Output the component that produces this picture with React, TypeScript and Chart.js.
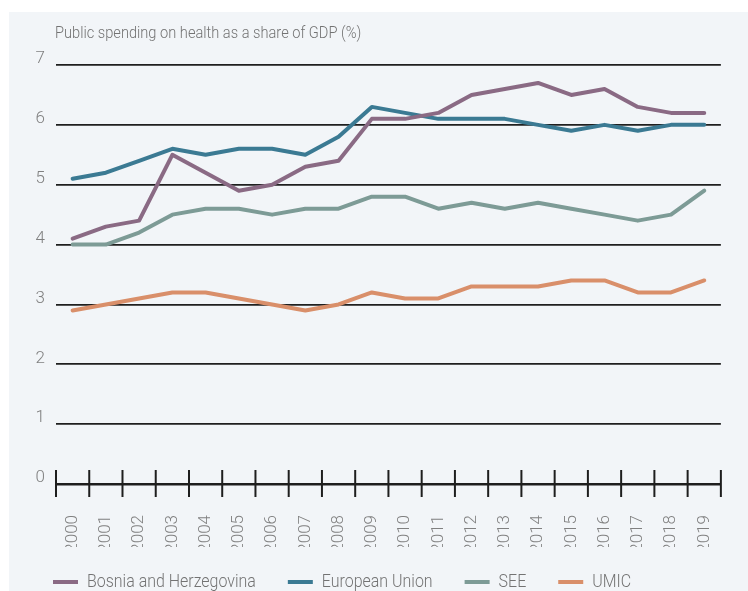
import React, { useEffect, useRef } from "react";
import { Chart, registerables } from "chart.js";
Chart.register(...registerables);

const years = ["2000","2001","2002","2003","2004","2005","2006","2007","2008","2009","2010","2011","2012","2013","2014","2015","2016","2017","2018","2019"];
const bosnia = [4.1,4.3,4.4,5.5,5.2,4.9,5.0,5.3,5.4,6.1,6.1,6.2,6.5,6.6,6.7,6.5,6.6,6.3,6.2,6.2];
const eu = [5.1,5.2,5.4,5.6,5.5,5.6,5.6,5.5,5.8,6.3,6.2,6.1,6.1,6.1,6.0,5.9,6.0,5.9,6.0,6.0];
const see = [4.0,4.0,4.2,4.5,4.6,4.6,4.5,4.6,4.6,4.8,4.8,4.6,4.7,4.6,4.7,4.6,4.5,4.4,4.5,4.9];
const umic = [2.9,3.0,3.1,3.2,3.2,3.1,3.0,2.9,3.0,3.2,3.1,3.1,3.3,3.3,3.3,3.4,3.4,3.2,3.2,3.4];
const seriesNames = ["Bosnia and Herzegovina","European Union","SEE","UMIC"];
const seriesColors = ["#8a6a84","#3b7a93","#7d9b96","#d98f6a"];
const yMin = 0;
const yMax = 7;
const titleText = "Public spending on health as a share of GDP (%)";

const FONT = 'Roboto, "Open Sans", sans-serif';
const TEXT = "#808080";

export default function App() {
  const ref = useRef<HTMLCanvasElement>(null);
  useEffect(() => {
    if (!ref.current) return;
    const titlePlugin = {
      id: "titleText",
      afterDraw(chart: any) {
        const ctx = chart.ctx;
        ctx.save();
        ctx.font = `300 17px ${FONT}`;
        ctx.fillStyle = "#737373";
        ctx.textAlign = "left";
        ctx.textBaseline = "alphabetic";
        ctx.translate(chart.chartArea.left - 1, 38);
        ctx.scale(0.86, 1);
        ctx.fillText(titleText, 0, 0);
        ctx.restore();
      },
    };
    const tickPlugin = {
      id: "tickMarks",
      afterDraw(chart: any) {
        const ctx = chart.ctx;
        const xs = chart.scales.x;
        const y0 = chart.chartArea.bottom;
        const n = years.length;
        const step = n > 1 ? xs.getPixelForValue(1) - xs.getPixelForValue(0) : 0;
        ctx.save();
        ctx.strokeStyle = "#1e1e1e";
        ctx.lineWidth = 2;
        for (let i = 0; i <= n; i++) {
          const x = i < n ? xs.getPixelForValue(i) - step / 2 : xs.getPixelForValue(n - 1) + step / 2;
          ctx.beginPath();
          ctx.moveTo(x, y0 - 14);
          ctx.lineTo(x, y0 + 13);
          ctx.stroke();
        }
        ctx.restore();
      },
    };
    const legendPlugin = {
      id: "bottomLegend",
      afterDraw(chart: any) {
        const ctx = chart.ctx;
        const sx = 0.84;
        ctx.save();
        ctx.font = `300 19px ${FONT}`;
        ctx.textBaseline = "middle";
        ctx.textAlign = "left";
        let x = chart.chartArea.left - 3;
        const y = 582;
        seriesNames.forEach((name, i) => {
          ctx.fillStyle = seriesColors[i];
          ctx.fillRect(x, y - 2, 25, 4);
          ctx.fillStyle = "#737373";
          ctx.save();
          ctx.translate(x + 34, y);
          ctx.scale(sx, 1);
          ctx.fillText(name, 0, 0);
          ctx.restore();
          x += 34 + ctx.measureText(name).width * sx + 32;
        });
        ctx.restore();
      },
    };
    const datasets = [bosnia, eu, see, umic].map((d, i) => ({
      label: seriesNames[i],
      data: d,
      borderColor: seriesColors[i],
      backgroundColor: seriesColors[i],
      borderWidth: 4,
      pointRadius: 0,
      tension: 0,
      borderJoinStyle: "round" as const,
      borderCapStyle: "round" as const,
    }));
    const chart = new Chart(ref.current, {
      type: "line",
      data: { labels: years, datasets },
      options: {
        responsive: false,
        animation: false,
        layout: { padding: { top: 65, right: 14, bottom: 44, left: 0 } },
        plugins: { legend: { display: false }, title: { display: false }, tooltip: { enabled: false } },
        scales: {
          x: {
            type: "category",
            offset: true,
            grid: { display: false },
            border: { display: true, color: "#1e1e1e", width: 2.5 },
            ticks: {
              minRotation: 90,
              maxRotation: 90,
              autoSkip: false,
              padding: 23,
              color: TEXT,
              font: { family: FONT, size: 17, weight: "300" },
            },
            afterFit: (s: any) => { s.height = 63; },
          },
          y: {
            min: yMin,
            max: yMax,
            ticks: {
              stepSize: 1,
              color: TEXT,
              padding: 11,
              labelOffset: -6,
              font: { family: FONT, size: 17, weight: "300" },
            },
            grid: { color: "#1f1f1f", lineWidth: 1.8, drawTicks: false },
            border: { display: false },
            afterFit: (s: any) => { s.width = 56; },
          },
        },
      },
      plugins: [titlePlugin, tickPlugin, legendPlugin],
    });
    return () => chart.destroy();
  }, []);
  return (
    <div style={{ position: "absolute", left: 0, top: 0, width: 748, height: 591, background: "#ffffff" }}>
      <div style={{ position: "absolute", left: 9, top: 12, width: 739, height: 579, background: "#f2f5f8" }} />
      <canvas ref={ref} width={748} height={591} style={{ position: "absolute", left: 0, top: 0, display: "block" }} />
    </div>
  );
}
